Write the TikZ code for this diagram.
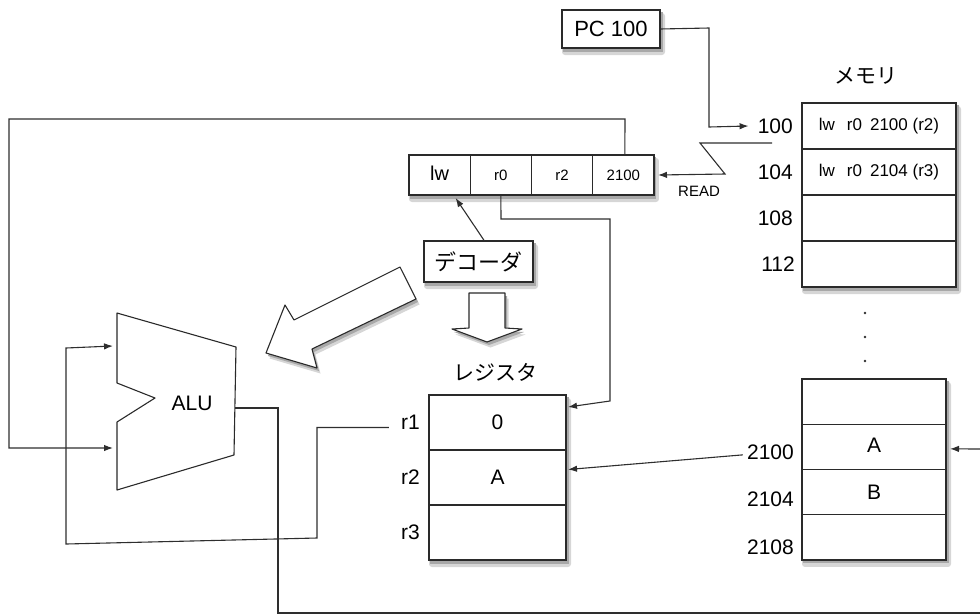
\documentclass[tikz,border=0pt]{standalone}
\usepackage{fontspec}
\setmainfont{Liberation Sans}
\newfontfamily\jpfont{Noto Sans CJK JP}
\usetikzlibrary{arrows.meta,positioning,backgrounds}
\definecolor{WireGray}{HTML}{2E2E2E}
\definecolor{EdgeGray}{HTML}{2A2A2A}
\definecolor{ShadeOuter}{HTML}{D6D6D6}
\definecolor{ShadeInner}{HTML}{A8A8A8}

\tikzset{
  cell/.style={draw=EdgeGray,line width=1.4pt,fill=white,inner sep=0pt,outer sep=0pt},
  blockarrow/.style={draw=EdgeGray,line width=1.1pt,fill=white,line join=round},
  wire/.style={draw=WireGray,line width=1.1pt},
  tip/.style={-{Latex[length=9pt,width=6.5pt]}},
  big/.style={font=\fontsize{21}{24}\selectfont},
  mid/.style={font=\fontsize{17}{20}\selectfont},
  small/.style={font=\fontsize{15}{18}\selectfont},
  addr/.style={big,inner sep=0pt},
}
\def\diagpath{(400,267) -- (294,320) -- (285,305) -- (266,353) -- (317,368) -- (312,349) -- (416,299) -- cycle}
\def\downpath{(469,293) -- (505,293) -- (505,328) -- (522,329) -- (487,342) -- (452,329) -- (469,328) -- cycle}

\begin{document}
\begin{tikzpicture}[x=1pt,y=-1pt,>=Latex]
\useasboundingbox (0,0) rectangle (980,614);
% program counter and memory
\node[cell,minimum width=98,minimum height=38,font=\fontsize{22}{26}\selectfont] (pc) at (611,29) {PC 100};
\node[big] (memlbl) at (866,76) {\jpfont メモリ};
\node[cell,minimum width=154,minimum height=46,mid] (m100) at (879,126) {lw\hspace{12pt}r0\hspace{8pt}2100 (r2)};
\node[cell,minimum width=154,minimum height=46,mid,below=0pt of m100] (m104) {lw\hspace{12pt}r0\hspace{8pt}2104 (r3)};
\node[cell,minimum width=154,minimum height=46,below=0pt of m104] (m108) {};
\node[cell,minimum width=154,minimum height=46,below=0pt of m108] (m112) {};
\node[addr,left=9pt of m100] (a100) {100};
\node[addr,left=9pt of m104] (a104) {104};
\node[addr,left=9pt of m108] (a108) {108};
\node[addr,left=7pt of m112] (a112) {112};
\foreach \y in {313,337,361} \fill[WireGray] (865,\y) circle (1.3pt);
\node[cell,minimum width=144,minimum height=45.25] (mblank) at (874,401.6) {};
\node[cell,minimum width=144,minimum height=45.25,big,below=0pt of mblank] (m2100) {\raisebox{3pt}{A}};
\node[cell,minimum width=144,minimum height=45.25,big,below=0pt of m2100] (m2104) {B};
\node[cell,minimum width=144,minimum height=45.25,below=0pt of m2104] (m2108) {};
\node[addr,anchor=east] (a2100) at ([shift={(-8,5)}]m2100.west) {2100};
\node[addr,anchor=east] (a2104) at ([shift={(-8,7)}]m2104.west) {2104};
\node[addr,anchor=east] (a2108) at ([shift={(-8,10)}]m2108.west) {2108};
% instruction register and decoder
\node[cell,minimum width=61.25,minimum height=40] (ilw) at (439.6,175) {\fontsize{20}{24}\selectfont\raisebox{4pt}{lw}};
\node[cell,minimum width=61.25,minimum height=40,small,right=0pt of ilw] (ir0) {r0};
\node[cell,minimum width=61.25,minimum height=40,small,right=0pt of ir0] (ir2) {r2};
\node[cell,minimum width=61.25,minimum height=40,small,right=0pt of ir2] (iaddr) {2100};
\node[small] (read) at (699,191) {READ};
\node[cell,minimum width=109,minimum height=41,font=\fontsize{22}{26}\selectfont\jpfont] (dec) at (478.5,261.5) {デコーダ};
% registers
\node[big] (reglbl) at (495,372) {\jpfont レジスタ};
\node[cell,minimum width=137,minimum height=55,big] (rr1) at (497.5,422.5) {0};
\node[cell,minimum width=137,minimum height=55,big,below=0pt of rr1] (rr2) {A};
\node[cell,minimum width=137,minimum height=55,below=0pt of rr2] (rr3) {};
\node[addr,left=9pt of rr1] (lr1) {r1};
\node[addr,left=9pt of rr2] (lr2) {r2};
\node[addr,left=9pt of rr3] (lr3) {r3};
% ALU
\draw[EdgeGray,line width=1.1pt,line join=round] (117,313) -- (236,347) -- (234,455) -- (117,490) -- (117,422) -- (155,398) -- (117,383) -- cycle;
\node[big] (alu) at (192,403) {ALU};
\coordinate (alu in1) at (117,346);
\coordinate (alu in2) at (117,448);
\coordinate (alu out) at (235,408);
% block arrows
\draw[blockarrow] \diagpath;
\draw[blockarrow] \downpath;
% shadows
\begin{scope}[on background layer]
  \foreach \a/\b in {pc/pc,m100/m112,mblank/m2108,ilw/iaddr,dec/dec,rr1/rr3} {
    \fill[ShadeOuter,rounded corners=3pt] ([shift={(0,3)}]\a.north west) rectangle ([shift={(5,7)}]\b.south east);
    \fill[ShadeInner] ([shift={(1,2)}]\a.north west) rectangle ([shift={(2.5,3.5)}]\b.south east);
  }
  \begin{scope}[shift={(3.5,5.5)}] \fill[ShadeOuter] \diagpath; \fill[ShadeOuter] \downpath; \end{scope}
  \begin{scope}[shift={(2,3)}] \fill[ShadeInner] \diagpath; \fill[ShadeInner] \downpath; \end{scope}
\end{scope}
% wires
\draw[wire,tip] (pc.east) -- (709,28) -- (709,127) -- ([xshift=-9pt]a100.west);
\coordinate (rdstart) at (772,143);
\draw[wire,tip] (rdstart) -- (700,143) -- (725,174) -- ([xshift=4pt]iaddr.east);
\draw[wire,tip] ([xshift=1.5pt]iaddr.north) -- (625,119) -- (9,119) -- (9,448) -- ([xshift=-4pt]alu in2);
\draw[wire,tip] ([xshift=6pt]dec.north) -- ([shift={(16,3)}]ilw.south);
\draw[wire,tip] (ir0.south) -- (501,219) -- (610,219) -- (610,401) -- ([shift={(2,12)}]rr1.north east);
\draw[wire,tip] ([shift={(-4,3)}]a2100.west) -- ([shift={(2,-8)}]rr2.east);
\coordinate (memin) at (980,449);
\draw[wire,tip] (memin) -- ([shift={(4,2)}]m2100.east);
\draw[wire,tip] ([shift={(-12,5)}]lr1.west) -- (317,427.5) -- (317,538) -- (66,544) -- (66,348) -- ([xshift=-4pt]alu in1);
\draw[wire] (alu out) -- (278,408) -- (278,613) -- (980,613);
\end{tikzpicture}
\end{document}
